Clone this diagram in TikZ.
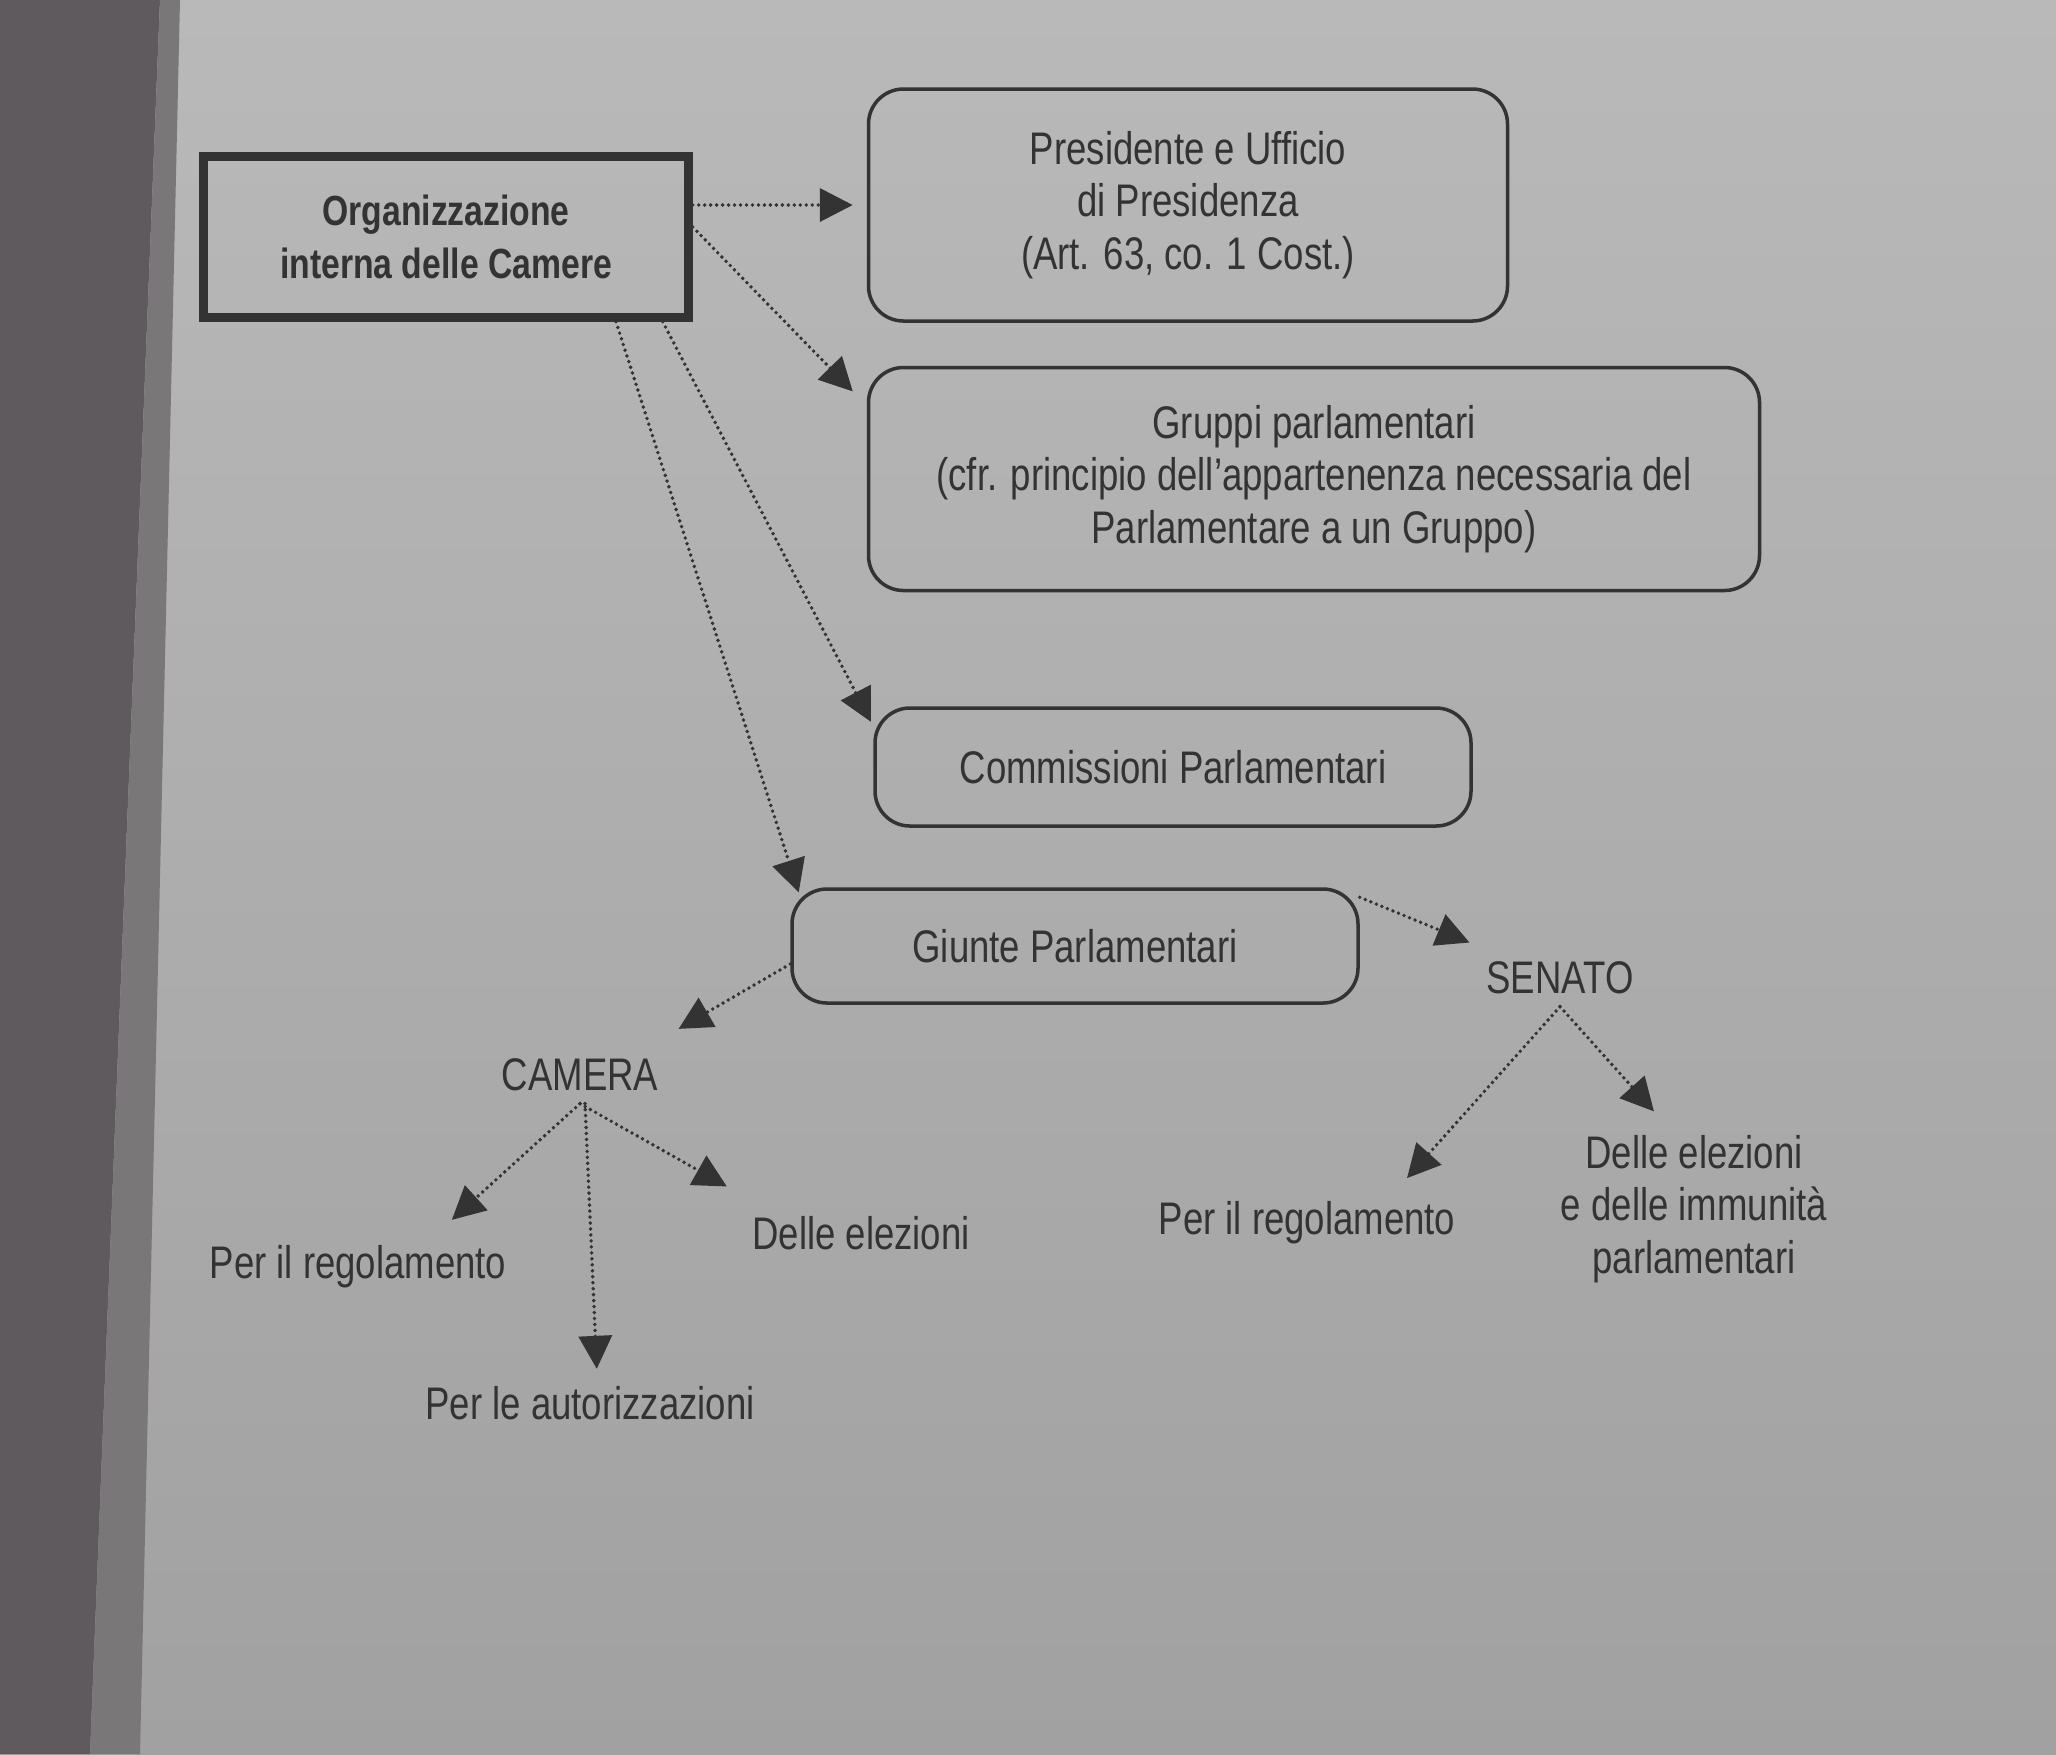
\documentclass[tikz,border=0pt]{standalone}
\usepackage{fontspec}
\usepackage{tikz}
\usetikzlibrary{arrows.meta}
\setmainfont{Liberation Sans}[FakeStretch=0.8]

\definecolor{pagina}{HTML}{ACACAC}
\definecolor{paginasu}{HTML}{B9B9B9}
\definecolor{paginagiu}{HTML}{A2A1A1}
\definecolor{dorso}{HTML}{5E5A5D}
\definecolor{bordo}{HTML}{797777}
\definecolor{inchiostro}{HTML}{333333}

\tikzset{
  testo/.style={text=inchiostro, font=\fontsize{13}{15}\selectfont, align=center},
  scatola/.style={testo, draw=inchiostro, line width=1pt, rounded corners=0.35cm},
  titolo/.style={testo, draw=inchiostro, line width=2.4pt, font=\fontsize{12}{15}\selectfont\bfseries},
  freccia/.style={draw=inchiostro, line width=1.1pt, line cap=round, dash pattern=on 0pt off 1.7pt,
    -{Triangle[length=3.3mm,width=3.3mm,fill=inchiostro]}},
}

\begin{document}
\begin{tikzpicture}
  % pagina fotografata
  \useasboundingbox (0,0) rectangle (20.56,-17.54);
  \shade[top color=paginasu, bottom color=paginagiu] (0,0) rectangle (20.56,-17.54);
  \fill[dorso] (0,0) -- (1.60,0) -- (0.90,-17.54) -- (0,-17.54) -- cycle;
  \fill[bordo] (1.60,0) -- (1.80,0) -- (1.40,-17.54) -- (0.90,-17.54) -- cycle;

  % riquadri
  \node[titolo, minimum width=4.85cm, minimum height=1.61cm] (org) at (4.46,-2.37)
    {Organizzazione\\interna delle Camere};
  \node[scatola, minimum width=6.39cm, minimum height=2.32cm] (pres) at (11.88,-2.05)
    {Presidente e Ufficio\\di Presidenza\\(Art. 63, co. 1 Cost.)};
  \node[scatola, minimum width=8.91cm, minimum height=2.23cm] (grp) at (13.14,-4.79)
    {Gruppi parlamentari\\(cfr. principio dell’appartenenza necessaria del\\Parlamentare a un Gruppo)};
  \node[scatola, minimum width=5.96cm, minimum height=1.18cm] (com) at (11.73,-7.67)
    {Commissioni Parlamentari};
  \node[scatola, minimum width=5.66cm, minimum height=1.14cm] (giu) at (10.75,-9.46)
    {Giunte Parlamentari};

  % camere e giunte
  \node[testo] (cam) at (5.80,-10.75) {CAMERA};
  \node[testo] (sen) at (15.60,-9.78) {SENATO};
  \node[testo] (preg1) at (3.58,-12.67) {Per il regolamento};
  \node[testo] (del1) at (8.61,-12.33) {Delle elezioni};
  \node[testo] (aut) at (5.90,-14.03) {Per le autorizzazioni};
  \node[testo] (preg2) at (13.07,-12.23) {Per il regolamento};
  \node[testo] (del2) at (16.94,-12.09) {Delle elezioni\\e delle immunità\\parlamentari};

  % frecce
  \draw[freccia, shorten >=1.4mm] (org.east |- pres.west) -- (pres.west);
  \draw[freccia, shorten >=2mm] ([yshift=1mm]org.east) -- ([yshift=-4mm]grp.north west);
  \draw[freccia, shorten >=0.5mm] ([xshift=-3mm]org.south east) -- ([yshift=-2mm]com.north west);
  \draw[freccia, shorten >=0.5mm] ([xshift=1.7cm]org.south) -- ([xshift=1mm,yshift=-1mm]giu.north west);
  \draw[freccia, shorten >=1.5mm] ([yshift=-1.8mm]giu.west) -- ([xshift=-0.5mm,yshift=1mm]cam.north east);
  \draw[freccia, shorten >=0.5mm] ([yshift=-1mm]giu.north east) -- ([yshift=0.5mm]sen.north west);
  \draw[freccia, shorten >=2mm] (cam.south) -- ([xshift=7.9mm]preg1.north);
  \draw[freccia, shorten >=1.5mm] (cam.south) -- ([yshift=1mm]del1.north west);
  \draw[freccia, shorten >=0.5mm] ([xshift=0.5mm]cam.south) -- ([xshift=0.7mm]aut.north);
  \draw[freccia, shorten >=1.5mm] (sen.south) -- ([xshift=9mm]preg2.north);
  \draw[freccia, shorten >=1.5mm] (sen.south) -- ([xshift=-3mm]del2.north);
\end{tikzpicture}
\end{document}
